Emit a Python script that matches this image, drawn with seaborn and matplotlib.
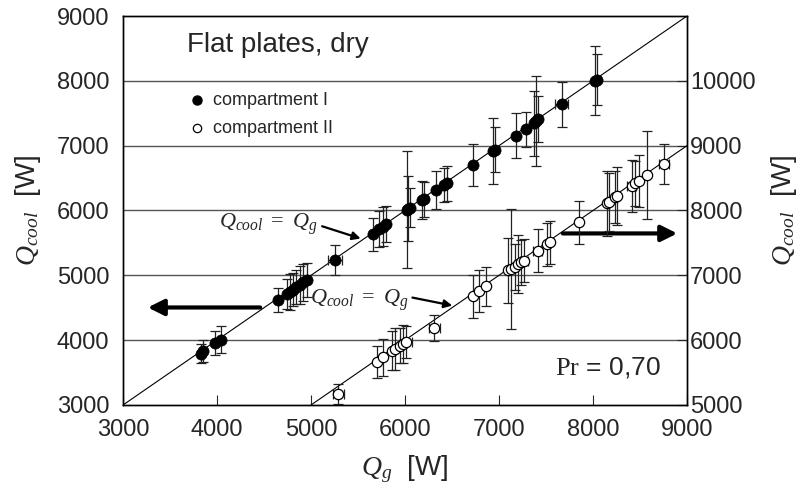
import matplotlib
matplotlib.use("Agg")
import matplotlib.pyplot as plt
import seaborn as sns
import numpy as np
import pandas as pd

# ---- data ----
c1_qg = [3830, 3850, 3979, 4039, 4649, 4740, 4775, 4810, 4845, 4880, 4915, 4953,
         5255, 5656, 5727, 5762, 5798, 6020, 6032, 6050, 6177, 6202, 6330, 6418,
         6443, 6720, 6940, 6955, 7181, 7284, 7375, 7395, 7412, 7666, 8020, 8040]
c1_qcool = [3790, 3830, 3958, 4010, 4617, 4710, 4745, 4780, 4815, 4850, 4890, 4926,
            5235, 5630, 5713, 5750, 5790, 6010, 6030, 6040, 6160, 6175, 6315, 6390,
            6420, 6700, 6920, 6940, 7153, 7250, 7344, 7380, 7410, 7637, 8000, 8020]
c1_err = [150, 170, 190, 215, 185, 230, 280, 250, 260, 300, 280, 260,
          237, 260, 280, 300, 280, 900, 500, 300, 290, 270, 295, 260,
          270, 320, 510, 350, 350, 275, 500, 700, 350, 350, 530, 400]
c1_xerr = [0, 0, 0, 0, 0, 0, 0, 0, 0, 0, 0, 0,
           70, 0, 0, 0, 0, 0, 0, 0, 0, 0, 0, 0,
           0, 0, 0, 0, 0, 0, 0, 0, 0, 70, 0, 0]

c2_qg = [5290, 5698, 5769, 5858, 5894, 5947, 5980, 6010, 6312, 6720, 6790, 6862,
         7099, 7130, 7165, 7200, 7235, 7268, 7411, 7507, 7543, 7854, 8145, 8173,
         8234, 8252, 8411, 8450, 8492, 8578, 8755]
c2_qcool = [5167, 5665, 5733, 5835, 5861, 5912, 5940, 5970, 6190, 6679, 6761, 6833,
            7080, 7100, 7130, 7170, 7200, 7224, 7378, 7481, 7508, 7816, 8110, 8134,
            8202, 8222, 8381, 8420, 8454, 8546, 8716]
c2_err = [150, 250, 280, 300, 320, 270, 300, 250, 205, 330, 320, 300,
          500, 930, 350, 450, 350, 330, 330, 330, 330, 335, 500, 450,
          400, 450, 400, 350, 400, 680, 310]
c2_xerr = [60, 0, 0, 0, 0, 0, 0, 60, 60, 0, 0, 0,
           0, 0, 0, 0, 0, 40, 50, 0, 0, 0, 0, 0,
           0, 0, 50, 0, 0, 0, 50]

x_ticks = [3000, 4000, 5000, 6000, 7000, 8000, 9000]
left_ticks = [3000, 4000, 5000, 6000, 7000, 8000, 9000]
right_ticks = [5000, 6000, 7000, 8000, 9000, 10000]

df1 = pd.DataFrame({"Qg": c1_qg, "Qcool": c1_qcool})
df2 = pd.DataFrame({"Qg": c2_qg, "Qcool": c2_qcool})

# ---- style ----
sns.set_theme(style="white")
plt.rcParams["font.family"] = ["Liberation Sans", "DejaVu Sans"]
plt.rcParams["mathtext.fontset"] = "custom"
plt.rcParams["mathtext.it"] = "Liberation Serif:italic"
plt.rcParams["mathtext.rm"] = "Liberation Serif"
plt.rcParams["axes.linewidth"] = 1.0

fig = plt.figure(figsize=(8.02, 4.91), dpi=100)
ax = fig.add_axes([0.1534, 0.1752, 0.7032, 0.7922])
ax2 = ax.twinx()

ax.set_xlim(3000, 9000)
ax.set_ylim(3000, 9000)
ax2.set_ylim(5000, 11000)

for g in [4000, 5000, 6000, 7000, 8000]:
    ax.axhline(g, color="#555555", lw=1.0, zorder=0)

# Qcool = Qg lines
ax.plot([3000, 9000], [3000, 9000], color="black", lw=0.8, zorder=1)
ax2.plot([5000, 9000], [5000, 9000], color="black", lw=0.8, zorder=1)

# error bars
ax.errorbar(c1_qg, c1_qcool, yerr=c1_err, xerr=c1_xerr, fmt="none",
            ecolor="#222222", elinewidth=0.9, capsize=3.5, capthick=0.9, zorder=2)
ax2.errorbar(c2_qg, c2_qcool, yerr=c2_err, xerr=c2_xerr, fmt="none",
             ecolor="#222222", elinewidth=0.9, capsize=3.5, capthick=0.9, zorder=2)

sns.scatterplot(data=df1, x="Qg", y="Qcool", ax=ax, color="black", s=65,
                edgecolor="black", linewidth=0.5, zorder=3, legend=False)
sns.scatterplot(data=df2, x="Qg", y="Qcool", ax=ax2, facecolor="white", s=55,
                edgecolor="black", linewidth=0.9, zorder=3, legend=False)

# ticks
ax.set_xticks(x_ticks)
ax.set_yticks(left_ticks)
ax2.set_yticks(right_ticks)
ax.tick_params(axis="x", direction="in", length=7, width=0.8, labelsize=17,
               pad=10, bottom=True, top=False)
ax.tick_params(axis="y", left=False, labelsize=17, pad=4)
ax2.tick_params(axis="y", direction="in", length=7, width=0.8, labelsize=17,
                pad=2, right=True)
for a in (ax, ax2):
    for s in a.spines.values():
        s.set_color("black")
        s.set_linewidth(1.0)

ax.set_xlabel("")
ax.set_ylabel(r"$Q_{cool}$  [W]", fontsize=20, labelpad=10)
ax2.set_ylabel(r"$Q_{cool}$  [W]", fontsize=20, rotation=90, labelpad=10)
fig.text(0.505, 0.045, r"$Q_g$  [W]", fontsize=20, ha="center", va="center")

# texts
ax.text(3680, 8550, "Flat plates, dry", fontsize=20, ha="left", va="center")
ax.plot([3791], [7704], "o", color="black", ms=6.5, zorder=4)
ax.text(3957, 7704, "compartment I", fontsize=13, ha="left", va="center")
ax.plot([3791], [7267], "o", mfc="white", mec="black", mew=0.9, ms=6, zorder=4)
ax.text(3957, 7267, "compartment II", fontsize=13, ha="left", va="center")
ax.text(8160, 3583, r"$\mathrm{Pr}$ = 0,70", fontsize=19, ha="center", va="center")

ax.annotate("", xy=(5556, 5554), xytext=(5090, 5770),
            arrowprops=dict(arrowstyle="-|>", color="black", lw=1.6, mutation_scale=12))
ax.text(4540, 5790, r"$Q_{cool}\ \mathrm{=}\ Q_g$", fontsize=16, ha="center", va="center")
ax.annotate("", xy=(6532, 4525), xytext=(6050, 4665),
            arrowprops=dict(arrowstyle="-|>", color="black", lw=1.6, mutation_scale=12))
ax.text(5515, 4617, r"$Q_{cool}\ \mathrm{=}\ Q_g$", fontsize=16, ha="center", va="center")

ax.annotate("", xy=(3234, 4504), xytext=(4489, 4504),
            arrowprops=dict(arrowstyle="-|>", color="black", lw=3, mutation_scale=24))
ax.annotate("", xy=(8926, 5646), xytext=(7649, 5646),
            arrowprops=dict(arrowstyle="-|>", color="black", lw=3, mutation_scale=24))

fig.savefig("out.png", dpi=100)
